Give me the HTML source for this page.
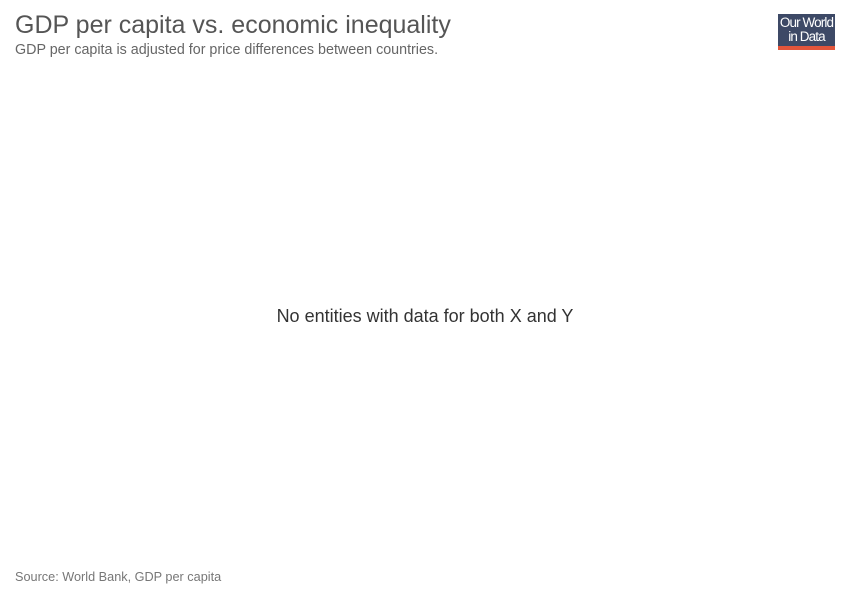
<!DOCTYPE html>
<html><head><meta charset="utf-8"><style>
body{margin:0;width:850px;height:600px;background:#fff;font-family:"Liberation Sans",sans-serif;position:relative;overflow:hidden}
.a{position:absolute;white-space:nowrap}
</style></head><body>
<div class="a" style="left:15px;top:11px;font-size:25px;color:#555">GDP per capita vs. economic inequality</div>
<div class="a" style="left:15px;top:42px;font-size:14.3px;color:#666">GDP per capita is adjusted for price differences between countries.</div>
<div class="a" style="left:778px;top:14px;width:57px;height:36px;background:#3d4966;">
<div style="position:absolute;left:0;right:0;top:2px;text-align:center;color:#fff;font-size:13.5px;line-height:14px;letter-spacing:-0.9px">Our World<br>in Data</div>
<div style="position:absolute;left:0;right:0;bottom:0;height:4px;background:#e2553b"></div>
</div>
<div class="a" style="left:0;width:850px;text-align:center;top:306px;font-size:18px;color:#333">No entities with data for both X and Y</div>
<div class="a" style="left:15px;top:570px;font-size:12.7px;color:#777">Source: World Bank, GDP per capita</div>
</body></html>
